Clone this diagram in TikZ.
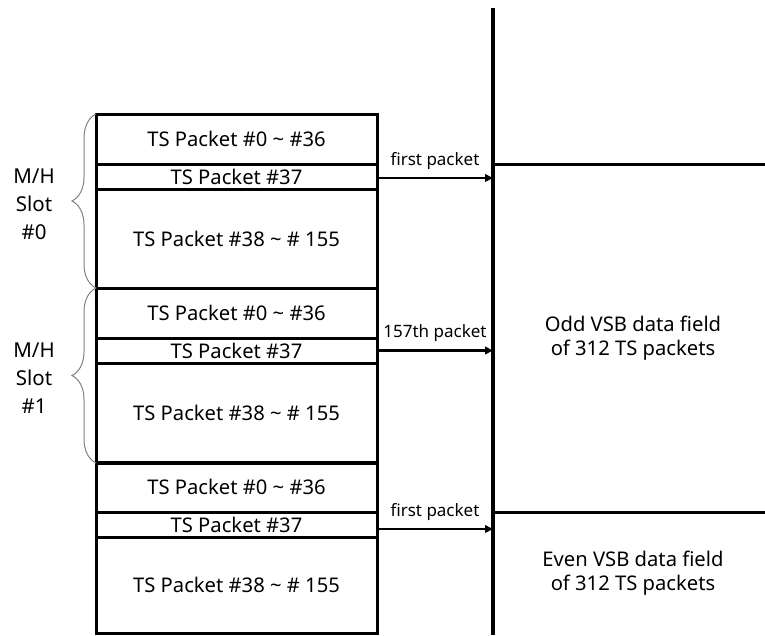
\documentclass[tikz,border=0pt]{standalone}
\usepackage{fontspec}
\setmainfont{Noto Sans}
\usetikzlibrary{arrows.meta}
\usetikzlibrary{positioning}
\usetikzlibrary{decorations.pathreplacing}

\begin{document}
\begin{tikzpicture}[x=1pt, y=-1pt,
    pkt/.style={draw, line width=3pt, outer sep=0pt, inner sep=0pt, minimum width=281pt, font=\fontsize{20.2}{24}\selectfont},
    slotbrace/.style={draw=black!50, line width=1pt, decorate, decoration={brace, amplitude=24pt}},
    slotlab/.style={align=center, font=\fontsize{20.5}{28}\selectfont},
    pktarrow/.style={-{Triangle[length=8pt, width=7.5pt]}, line width=2.6pt},
    arrlab/.style={midway, anchor=base, yshift=13pt, font=\fontsize{17}{20}\selectfont},
    fieldtxt/.style={align=center, font=\fontsize{20.2}{23.5}\selectfont}]
                    \useasboundingbox (0,0) rectangle (765,635);
                    \coordinate (axis) at (493,8);
                    \coordinate (rim) at (765,635);
                    \draw[line width=3.3pt](axis)--(axis |- rim);
                    \foreach \i/\y/\h/\a/\l in {0/114/99/1.5/first packet, 1/288/100/0/157th packet, 2/462/96/4.5/first packet}{
                        \node[pkt, minimum height=50pt, anchor=north](pa\i) at (236.5,\y){TS Packet \#0 \textasciitilde{} \#36};
                        \node[pkt, minimum height=25pt, below=0pt of pa\i](pb\i){TS Packet \#37};
                        \node[pkt, minimum height=\h pt, below=0pt of pb\i](pc\i){TS Packet \#38 \textasciitilde{} \# 155};
                        \coordinate (st\i) at ([yshift=-\a pt]pb\i.east);
                        \draw[pktarrow](st\i)--(st\i -| axis)node[arrlab]{\l};
                    }
                    \foreach \i in {0,1}{
                        \draw[slotbrace](pc\i.south west)--(pa\i.north west);
                    }
                    \node[slotlab](slot0) at (34,204){M/H\\Slot\\\#0};
                    \node[slotlab](slot1) at (34,378){M/H\\Slot\\\#1};
                    \draw[line width=3pt](pa0.south -| axis)--(pa0.south -| rim);
                    \draw[line width=3pt](pa2.south -| axis)--(pa2.south -| rim);
                    \node[fieldtxt](odd) at (633,338){Odd VSB data field\\of 312 TS packets};
                    \node[fieldtxt](even) at (633,573){Even VSB data field\\of 312 TS packets};
                \end{tikzpicture}
\end{document}
